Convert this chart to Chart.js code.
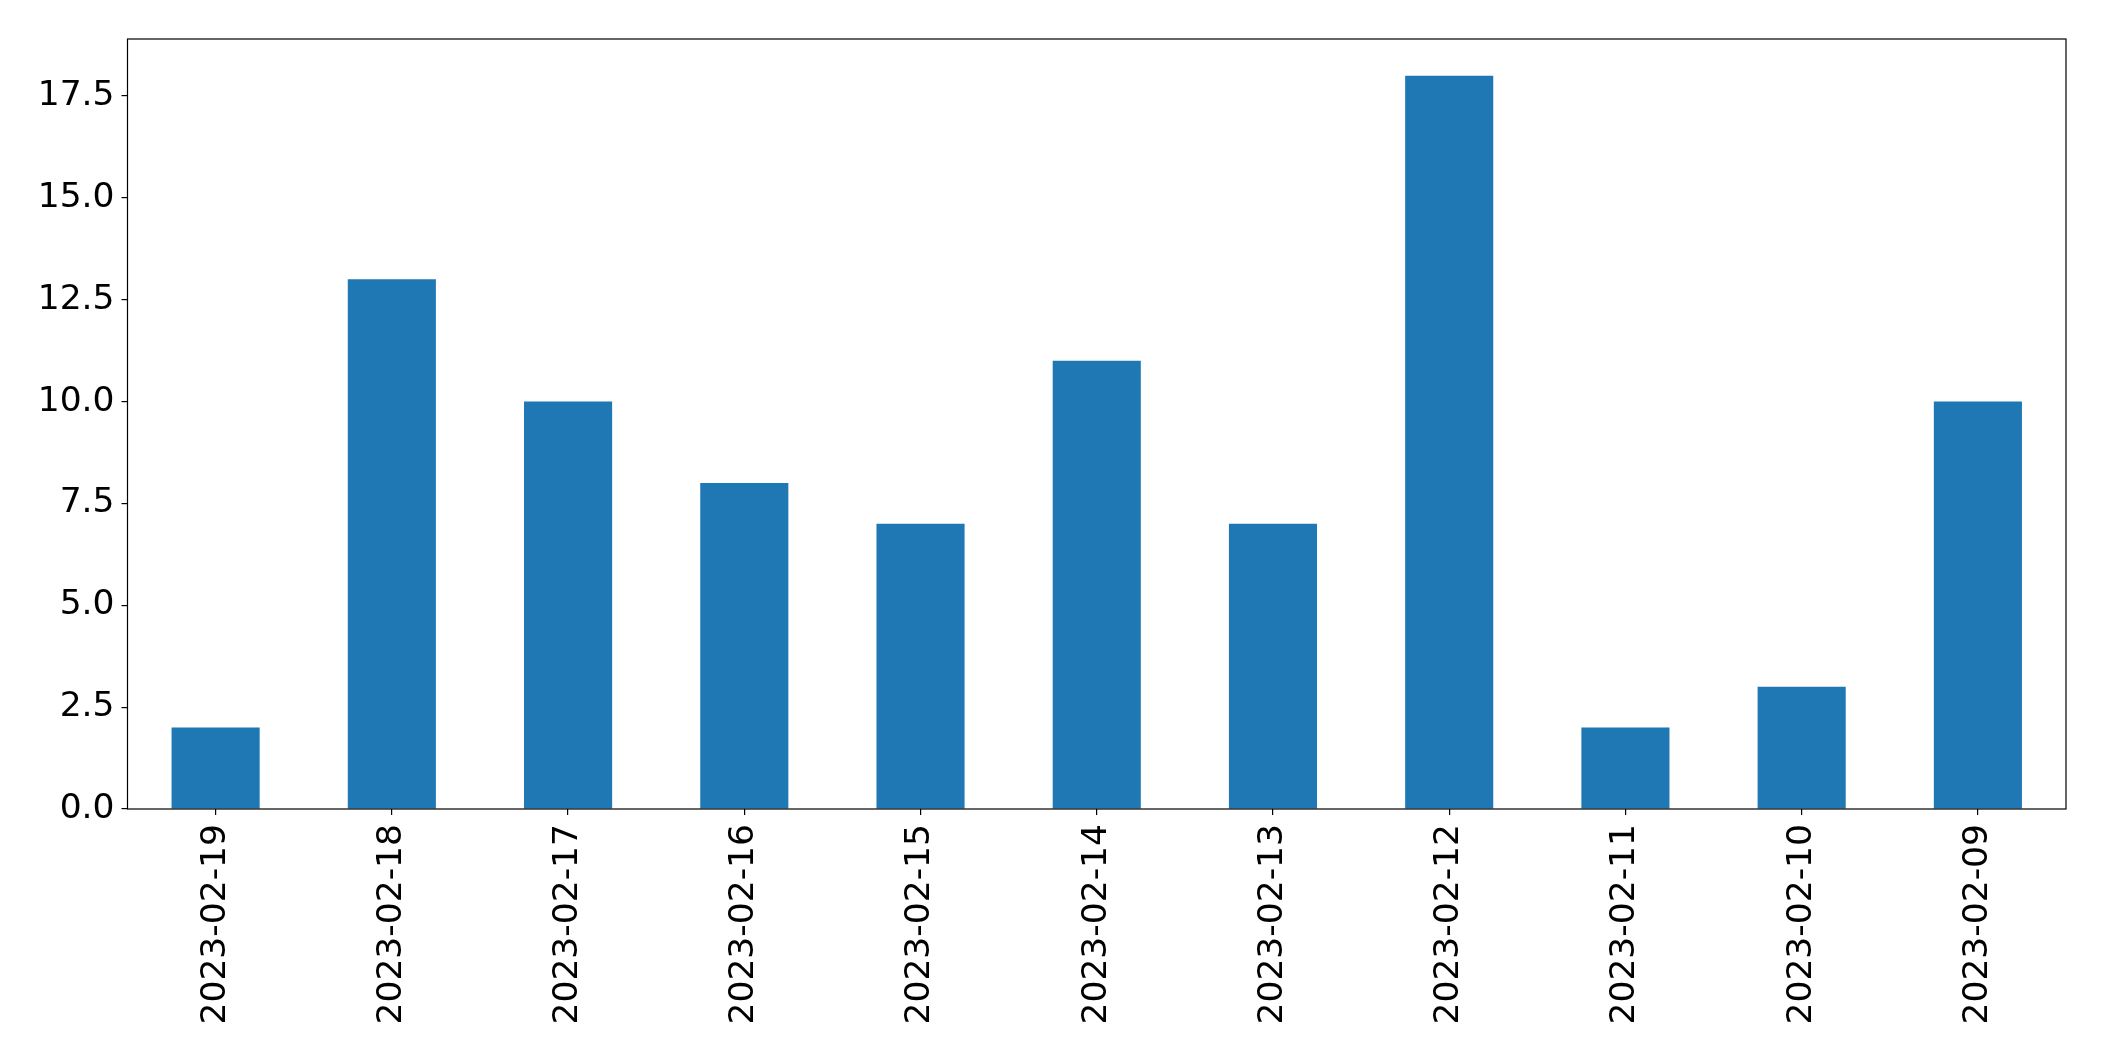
<!DOCTYPE html>
<html>
<head>
<meta charset="utf-8">
<script src="https://cdn.jsdelivr.net/npm/chart.js@4/dist/chart.umd.min.js"></script>
<style>
  html, body { margin: 0; padding: 0; background: #fff; }
</style>
</head>
<body>
<canvas id="chart" width="2104" height="1061"></canvas>
<script>
// data
const dates = ['2023-02-19', '2023-02-18', '2023-02-17', '2023-02-16', '2023-02-15', '2023-02-14',
               '2023-02-13', '2023-02-12', '2023-02-11', '2023-02-10', '2023-02-09'];
const counts = [2, 13, 10, 8, 7, 11, 7, 18, 2, 3, 10];
const yTicks = [0, 2.5, 5, 7.5, 10, 12.5, 15, 17.5];

// box round the plot area, like the matplotlib frame
const frame = {
    id: 'frame',
    afterDatasetsDraw(chart) {
        const a = chart.chartArea;
        const ctx = chart.ctx;
        ctx.save();
        ctx.strokeStyle = '#000';
        ctx.lineWidth = 1.2;
        ctx.strokeRect(a.left, a.top, a.right - a.left, a.bottom - a.top);
        ctx.restore();
    }
};

Chart.defaults.font.family = '"DejaVu Sans", sans-serif';
Chart.defaults.font.size = 34.5;
Chart.defaults.color = '#000';

const ctx = document.getElementById('chart').getContext('2d');
new Chart(ctx, {
    type: 'bar',
    data: {
        labels: dates,
        datasets: [{
            data: counts,
            backgroundColor: '#1f77b4',
            borderWidth: 0,
            categoryPercentage: 1.0,
            barPercentage: 0.5
        }]
    },
    options: {
        responsive: false,
        devicePixelRatio: 1,
        animation: false,
        layout: { padding: { top: 39, right: 38, left: 0, bottom: 0 } },
        plugins: { legend: { display: false }, tooltip: { enabled: false } },
        scales: {
            x: {
                offset: true,
                grid: { display: true, drawOnChartArea: false, offset: false, tickLength: 6, color: '#000', lineWidth: 1.2 },
                border: { display: false },
                ticks: { minRotation: 90, maxRotation: 90, padding: 9, autoSkip: false },
                afterFit(scale) { scale.height = 252; }
            },
            y: {
                min: 0,
                max: 18.9,
                grid: { display: true, drawOnChartArea: false, tickLength: 6, color: '#000', lineWidth: 1.2 },
                border: { display: false },
                ticks: {
                    padding: 7,
                    callback: (v) => Number(v).toFixed(1)
                },
                afterBuildTicks(scale) { scale.ticks = yTicks.map(v => ({ value: v })); },
                afterFit(scale) { scale.width = 127.5; }
            }
        }
    },
    plugins: [frame]
});
</script>
</body>
</html>
